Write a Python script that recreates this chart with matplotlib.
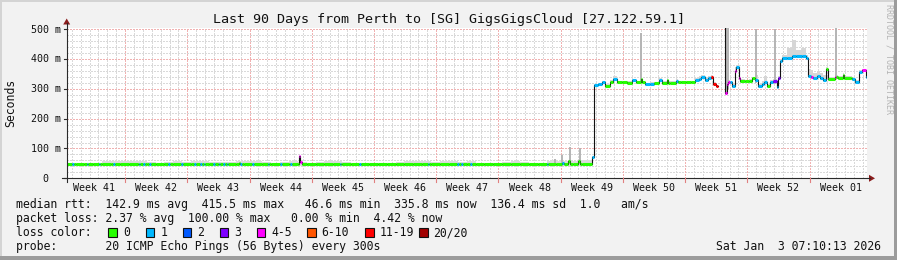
import numpy as np
import matplotlib
matplotlib.use("Agg")
import matplotlib.pyplot as plt
from matplotlib.patches import Rectangle, Polygon
from matplotlib.lines import Line2D
from matplotlib.transforms import blended_transform_factory, offset_copy

# ------------------------------------------------------------------ data
TITLE = "Last 90 Days from Perth to [SG] GigsGigsCloud [27.122.59.1]"
WEEK_LABELS = ["Week 41", "Week 42", "Week 43", "Week 44", "Week 45", "Week 46",
               "Week 47", "Week 48", "Week 49", "Week 50", "Week 51", "Week 52", "Week 01"]
Y_TICKS = [0, 100, 200, 300, 400, 500]
Y_TICK_LABELS = ["0", "100 m", "200 m", "300 m", "400 m", "500 m"]
LOSS_COLORS = ["#26ff00", "#00b8ff", "#0059ff", "#7e00ff", "#ff00ff", "#ff5500", "#ff0000", "#a10000"]
LOSS_LABELS = ["0", "1", "2", "3", "4-5", "6-10", "11-19", "20/20"]
LEGEND_ROWS = [
    "median rtt:  142.9 ms avg  415.5 ms max   46.6 ms min  335.8 ms now  136.4 ms sd  1.0   am/s",
    "packet loss: 2.37 % avg  100.00 % max   0.00 % min  4.42 % now",
    "loss color:",
    "probe:       20 ICMP Echo Pings (56 Bytes) every 300s",
]
DATE_TEXT = "Sat Jan  3 07:10:13 2026"
WATERMARK = "RRDTOOL / TOBI OETIKER"

# first 59 days: daily median (ms) and smoke top (ms)
lo_ms = [47, 47, 47, 47, 47, 47.5, 47, 47, 47, 47.5,
         47, 47, 47, 47, 47, 47, 47.5, 47, 47, 47,
         47, 47, 47, 47, 47, 47, 47, 47, 47, 47,
         47, 47, 47, 47, 47, 47, 47, 47, 47, 47,
         47, 47, 47, 47, 47, 47, 47, 47, 47, 47,
         47, 47, 47, 47, 47, 47.5, 47, 47, 47]
lo_smoke = [51, 51, 52, 51,
            57, 58, 57, 57, 58,
            55, 52,
            56, 57, 56, 57, 58,
            55, 56, 54,
            57, 58, 57, 56,
            53, 55,
            57, 56,
            52,
            56, 57, 58, 56,
            52, 51, 52, 51, 52, 55,
            57, 57, 58, 56,
            57, 58, 56, 57,
            52, 51, 53, 55,
            57, 56,
            52, 53,
            57, 58, 59, 58, 60]
# short events in the first 59 days: day, median (nan = unchanged), loss class
lo_event_t = [0.6, 2.25, 3.6, 5.2, 8.1, 8.6, 9.3, 11.4, 12.9, 14.3, 15.0, 15.4, 16.5, 17.1,
              17.6, 18.0, 19.35, 19.55, 20.9, 22.6, 24.0, 25.1, 26.15, 26.25, 30.7, 32.9,
              40.6, 43.9, 44.4, 45.4, 54.0, 55.75, 56.4, 57.5]
lo_event_ms = [np.nan, np.nan, np.nan, np.nan, np.nan, np.nan, np.nan, np.nan, np.nan, np.nan,
               np.nan, np.nan, np.nan, np.nan, np.nan, np.nan, 52, np.nan, np.nan, np.nan,
               np.nan, np.nan, 75, 55, np.nan, np.nan, np.nan, np.nan, np.nan, np.nan,
               np.nan, 52, 58, 58]
lo_event_loss = [1, 1, 1, 1, 1, 1, 1, 1, 1, 1, 1, 1, 1, 1,
                 1, 1, 0, 1, 1, 1, 1, 1, 4, 4, 1, 1,
                 1, 1, 1, 1, 1, 1, 0, 0]

# last 31 days: sample start day, median (ms), loss class, smoke top (ms)
hi_t = [59.1, 59.3, 59.8, 60.2, 60.6, 61.1, 61.5, 61.9, 62.5, 63.0,
        63.6, 64.0, 64.6, 64.75, 65.1, 65.6, 66.1, 66.6, 67.0, 67.5,
        67.65, 67.9, 68.6, 68.8, 69.1, 69.7, 70.2, 70.7, 71.1, 71.4,
        71.8, 72.2, 72.5, 72.7, 73.0, 73.3, 74.0, 74.1, 74.25, 74.4,
        74.6, 74.9, 75.15, 75.35, 75.6, 75.8, 76.3, 76.8, 77.1, 77.4,
        77.8, 78.2, 78.5, 78.75, 79.1, 79.5, 79.9, 80.05, 80.3, 80.5,
        81.0, 81.6, 82.1, 82.7, 83.2, 83.35, 83.7, 84.0, 84.4, 84.75,
        85.1, 85.45, 85.6, 86.4, 86.6, 86.8, 87.35, 87.5, 88.2, 88.35,
        88.7, 89.1, 89.5, 89.9]
hi_ms = [70, 312, 315, 322, 310, 324, 332, 322, 322, 321,
         330, 322, 334, 322, 315, 317, 319, 330, 320, 330,
         321, 321, 327, 322, 322, 322, 322, 330, 334, 340,
         330, 335, 340, 318, 309, np.nan, 520, 287, 315, 324,
         322, 310, 360, 374, 335, 327, 327, 327, 335, 330,
         310, 318, 322, 310, 322, 326, 307, 335, 393, 402,
         404, 410, 410, 410, 402, 344, 340, 335, 344, 335,
         330, 368, 332, 340, 340, 335, 348, 335, 336, 332,
         322, 357, 363, 340]
hi_loss = [1, 1, 1, 1, 0, 0, 1, 0, 0, 0,
           1, 0, 0, 0, 1, 1, 0, 1, 0, 0,
           0, 0, 1, 0, 0, 0, 0, 1, 1, 1,
           1, 1, 6, 6, 6, 0, 7, 4, 4, 4,
           1, 1, 4, 1, 4, 0, 0, 0, 0, 1,
           1, 1, 1, 0, 1, 3, 1, 3, 1, 1,
           1, 1, 1, 1, 1, 1, 4, 1, 1, 1,
           1, 0, 0, 4, 0, 0, 0, 0, 0, 1,
           1, 1, 4, 1]
hi_smoke = [75, 318, 320, 328, 315, 330, 342, 328, 326, 326,
            334, 327, 340, 327, 320, 322, 323, 335, 325, 334,
            326, 326, 332, 327, 326, 326, 327, 336, 342, 348,
            338, 342, 346, 324, 312, np.nan, 520, 300, 322, 330,
            328, 318, 372, 380, 342, 332, 331, 332, 340, 345,
            318, 325, 342, 318, 330, 334, 315, 342, 400, 415,
            437, 463, 430, 437, 413, 368, 365, 355, 360, 352,
            345, 372, 340, 350, 346, 342, 352, 342, 342, 340,
            330, 362, 368, 346]
# narrow smoke spikes: day, top (ms), base (ms)
spike_t = [54.9, 55.7, 56.6, 57.75, 64.65, 74.15, 74.45, 77.5, 79.7, 86.6]
spike_top = [65, 78, 106, 103, 486, 505, 505, 500, 500, 505]
spike_base = [47, 47, 47, 47, 325, 290, 300, 320, 315, 335]

# ------------------------------------------------------------------ layout
W, H = 897, 260
MONO = "DejaVu Sans Mono"
DAYS = 90
WEEK_OFFSET = -0.43
EVENT_LEN = 0.2
YMAX = 505
AX_L, AX_R, AX_B, AX_T = 66.7, 866.7, 178.3, 27.8
BOX_X = [108.3, 145.7, 182.7, 219.7, 256.7, 307.0, 365.0, 419.0]
FS_LEG, FS_AX, FS_TITLE = 8.3, 7.2, 9.6


def fx(x):
    return x / W


def fy(y):
    return 1 - y / H


fig = plt.figure(figsize=(W / 100, H / 100), dpi=100, facecolor="#f2f2f2")

# frame shading
for (x0, y0, w, h, c) in [(0, 0, W, 2, "#d4d4d4"), (0, 0, 2, H, "#d4d4d4"),
                          (W - 3, 0, 3, H, "#9c9c9c"), (0, H - 4, W, 4, "#9c9c9c")]:
    fig.patches.append(Rectangle((fx(x0), fy(y0 + h)), w / W, h / H,
                                 transform=fig.transFigure, color=c, lw=0))

ax = fig.add_axes([fx(AX_L), fy(AX_B), (AX_R - AX_L) / W, (AX_B - AX_T) / H])
ax.set_facecolor("white")
ax.set_xlim(0, DAYS)
ax.set_ylim(0, YMAX)
ax.set_xticks([])
ax.set_yticks([])
for s in ax.spines.values():
    s.set_visible(False)

# grid
week_lines = [WEEK_OFFSET + 7 * k for k in range(15) if 0 < WEEK_OFFSET + 7 * k <= DAYS]
day_lines = [WEEK_OFFSET + k for k in range(DAYS + 2)
             if 0 < WEEK_OFFSET + k <= DAYS and k % 7 != 0]
dots = (0, (1.4, 1.4))
grid_kw = dict(linestyles=dots, lw=0.72, antialiased=False)
ax.vlines(day_lines, 0, YMAX, colors="#d9d9d9", zorder=0.5, **grid_kw)
ax.vlines(week_lines, 0, YMAX, colors="#f0b2b2", zorder=0.6, **grid_kw)
minor_h = [v for v in range(20, 501, 20) if v % 100 != 0]
ax.hlines(minor_h, 0, DAYS, colors="#d9d9d9", zorder=0.5, **grid_kw)
ax.hlines(Y_TICKS[1:], 0, DAYS, colors="#f0b2b2", zorder=0.6, **grid_kw)

# ---- build low-period series (daily baseline with short events)
events = sorted(zip(lo_event_t, lo_event_ms, lo_event_loss))
intervals = []
for i, (bt, bv, bl) in enumerate(events):
    be = bt + EVENT_LEN
    if i + 1 < len(events):
        be = min(be, events[i + 1][0])
    intervals.append((bt, be, bv, bl))
pts = []
for d in range(len(lo_ms)):
    if not any(s <= d < e for s, e, _, _ in intervals):
        pts.append((float(d), lo_ms[d], 0))
starts = [s for s, _, _, _ in intervals]
for bt, be, bv, bl in intervals:
    base = lo_ms[int(bt)]
    pts.append((bt, base if np.isnan(bv) else bv, bl))
    if not any(abs(s - be) < 1e-9 for s in starts):
        pts.append((be, lo_ms[min(int(be), len(lo_ms) - 1)], 0))
pts.sort()

T = np.array([p[0] for p in pts] + list(hi_t))
V = np.array([p[1] for p in pts] + list(hi_ms), dtype=float)
L = np.array([p[2] for p in pts] + list(hi_loss))
T_end = np.append(T[1:], DAYS)

# smoke
lo_x = np.append(np.arange(len(lo_smoke), dtype=float), hi_t[0])
lo_y = np.append(lo_smoke, lo_smoke[-1])
ax.fill_between(lo_x, 40, lo_y, step="post", color="#dcdcdc", lw=0, zorder=1)
hx = np.append(hi_t, DAYS)
hs = np.append(hi_smoke, hi_smoke[-1])
hb = np.append(np.array(hi_ms, dtype=float) - 6, hi_ms[-1] - 6)
ax.fill_between(hx, hb, hs, step="post", color="#d6d6d6", lw=0, zorder=1)
ax.vlines(spike_t, spike_base, spike_top, colors="#b4b4b4", lw=1.4, zorder=1.1)

# median: thin dark connector + colored segments by loss
ax.plot(np.append(T, DAYS), np.append(V, V[-1]), drawstyle="steps-post",
        color="#111111", lw=0.8, zorder=2)
ok = ~np.isnan(V)
ax.hlines(V[ok], T[ok], T_end[ok], colors=[LOSS_COLORS[c] for c in L[ok]],
          lw=2.2, zorder=3, capstyle="butt")

# axis lines and arrows
fig.lines.append(Line2D([fx(AX_L), fx(AX_L)], [fy(181.5), fy(23)], transform=fig.transFigure,
                        color="#2a2a2a", lw=0.8))
fig.lines.append(Line2D([fx(62), fx(870)], [fy(AX_B), fy(AX_B)], transform=fig.transFigure,
                        color="#2a2a2a", lw=0.8))
arrow_c = "#8a1c1c"
fig.patches.append(Polygon([(fx(869), fy(174.8)), (fx(869), fy(181.8)), (fx(875), fy(AX_B))],
                           closed=True, transform=fig.transFigure, color=arrow_c, lw=0))
fig.patches.append(Polygon([(fx(63.2), fy(24.5)), (fx(70.2), fy(24.5)), (fx(AX_L), fy(18.5))],
                           closed=True, transform=fig.transFigure, color=arrow_c, lw=0))

# tick marks
tr_xfig = blended_transform_factory(ax.transData, fig.transFigure)
for wl in week_lines:
    fig.lines.append(Line2D([wl, wl], [fy(AX_B), fy(181.5)], transform=tr_xfig,
                            color="#e08080", lw=0.8))
tr_yfig = blended_transform_factory(fig.transFigure, ax.transData)
for v in Y_TICKS:
    fig.lines.append(Line2D([fx(63.5), fx(AX_L)], [v, v], transform=tr_yfig,
                            color="#2a2a2a", lw=0.8))

# texts
fig.text(fx(448.5), fy(23), TITLE, ha="center", va="baseline", fontsize=FS_TITLE,
         family=MONO, color="#111111")
for k, lab in enumerate(WEEK_LABELS):
    xc = WEEK_OFFSET + 7 * k + 3.5
    ax.text(xc, fy(191), lab, transform=tr_xfig, ha="center", va="baseline",
            fontsize=FS_AX, family=MONO, color="#111111")
ylab_tr = offset_copy(tr_yfig, fig=fig, y=-3.4, units="dots")
for v, lab in zip(Y_TICKS, Y_TICK_LABELS):
    xr = 60.5 if " " in lab else 48.4
    fig.text(fx(xr), v, lab, transform=ylab_tr, ha="right", va="baseline",
             fontsize=FS_AX, family=MONO, color="#111111")
fig.text(fx(11), fy(103), "Seconds", rotation=90, ha="center", va="center",
         fontsize=FS_LEG, family=MONO, color="#111111")

for row, yb in zip(LEGEND_ROWS, [208.3, 222.3, 236.3, 250.0]):
    fig.text(fx(16), fy(yb), row, ha="left", va="baseline", fontsize=FS_LEG,
             family=MONO, color="#111111")
for bx, col, lab in zip(BOX_X, LOSS_COLORS, LOSS_LABELS):
    fig.patches.append(Rectangle((fx(bx), fy(236.5)), 8.5 / W, 9 / H, transform=fig.transFigure,
                                 facecolor=col, edgecolor="#111111", lw=0.8))
    fig.text(fx(bx + 14.5), fy(236.3), lab, ha="left", va="baseline", fontsize=FS_LEG,
             family=MONO, color="#111111")
fig.text(fx(880.5), fy(250.0), DATE_TEXT, ha="right", va="baseline", fontsize=FS_LEG,
         family=MONO, color="#111111")
fig.text(fx(888.5), fy(4), WATERMARK, rotation=-90, ha="center", va="top", fontsize=6,
         family=MONO, color="#b4b4b4")

fig.savefig("out.png", dpi=100, facecolor=fig.get_facecolor())
